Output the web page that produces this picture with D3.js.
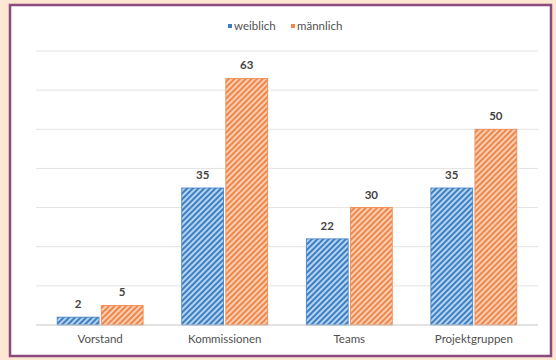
<!DOCTYPE html>
<html>
<head>
<meta charset="utf-8">
<script src="https://cdn.jsdelivr.net/npm/d3@7"></script>
<style>
  html, body { margin: 0; padding: 0; background: #fde6d2; }
  svg { display: block; }
  text { font-family: Lato, "Open Sans", sans-serif; }
</style>
</head>
<body>
<svg id="chart" width="556" height="360"></svg>
<script>
const categories = ['Vorstand', 'Kommissionen', 'Teams', 'Projektgruppen'];
const seriesNames = ['weiblich', 'männlich'];
const weiblich = [2, 35, 22, 35];
const maennlich = [5, 63, 30, 50];
const yTicks = [0, 10, 20, 30, 40, 50, 60, 70];

const colors = {
  weiblich: {dark: '#3f7fc1', light: '#b4d4f2'},
  'männlich': {dark: '#ef864a', light: '#fbcfb3'}
};

const svg = d3.select('#chart');
const W = 556, H = 360;
const margin = {top: 51, right: 18, bottom: 35, left: 36};
const w = W - margin.left - margin.right,
      h = H - margin.top - margin.bottom;

// panel with purple frame
svg.append('rect')
  .attr('x', 10).attr('y', 5)
  .attr('width', 541).attr('height', 351)
  .attr('fill', '#fff')
  .attr('stroke', '#8a4a7c')
  .attr('stroke-width', 2.5);

// hatch patterns
const defs = svg.append('defs');
seriesNames.forEach((s, i) => {
  const p = defs.append('pattern')
    .attr('id', 'hatch' + i)
    .attr('patternUnits', 'userSpaceOnUse')
    .attr('width', 4).attr('height', 4)
    .attr('patternTransform', 'rotate(45)');
  p.append('rect').attr('width', 4).attr('height', 4).attr('fill', colors[s].light);
  p.append('rect').attr('width', 2).attr('height', 4).attr('fill', colors[s].dark);
});

const g = svg.append('g').attr('transform', `translate(${margin.left},${margin.top})`);

const x = d3.scaleBand().domain(categories).range([0, w]).paddingInner(0.31).paddingOuter(0.17);
const xs = d3.scaleBand().domain(seriesNames).range([0, x.bandwidth()]).paddingInner(0.05);
const y = d3.scaleLinear().domain([0, 70]).range([h, 0]);

// gridlines
g.append('g')
  .selectAll('line')
  .data(yTicks.slice(1))
  .join('line')
  .attr('x1', 0).attr('x2', w)
  .attr('y1', d => y(d)).attr('y2', d => y(d))
  .attr('stroke', '#e3e3e3')
  .attr('stroke-width', 1);

const rows = categories.map((c, i) => ({cat: c, values: [weiblich[i], maennlich[i]]}));

const groups = g.selectAll('.grp')
  .data(rows)
  .join('g')
  .attr('class', 'grp')
  .attr('transform', d => `translate(${x(d.cat)},0)`);

groups.selectAll('rect')
  .data(d => d.values.map((v, i) => ({s: seriesNames[i], i, v})))
  .join('rect')
  .attr('x', d => xs(d.s))
  .attr('width', xs.bandwidth())
  .attr('y', d => y(d.v))
  .attr('height', d => y(0) - y(d.v))
  .attr('fill', d => `url(#hatch${d.i})`)
  .attr('stroke', d => colors[d.s].dark)
  .attr('stroke-width', 0.8);

groups.selectAll('text.val')
  .data(d => d.values.map((v, i) => ({s: seriesNames[i], i, v})))
  .join('text')
  .attr('class', 'val')
  .attr('x', d => xs(d.s) + xs.bandwidth() / 2)
  .attr('y', d => y(d.v) - 9)
  .attr('text-anchor', 'middle')
  .attr('font-size', 11.5)
  .attr('font-weight', 700)
  .attr('fill', '#444')
  .text(d => d.v);

// baseline
g.append('line')
  .attr('x1', 0).attr('x2', w)
  .attr('y1', y(0)).attr('y2', y(0))
  .attr('stroke', '#c8c8c8')
  .attr('stroke-width', 1.2);

// x axis labels
const xAxis = g.append('g')
  .attr('transform', `translate(0,${h})`)
  .call(d3.axisBottom(x).tickSize(0).tickPadding(10));
xAxis.select('.domain').remove();
xAxis.selectAll('text')
  .attr('font-size', 11.5)
  .attr('fill', '#505050')
  .style('font-family', 'Lato, "Open Sans", sans-serif');

// legend
const legend = svg.append('g').attr('transform', 'translate(228,26)');
const lx = [0, 63];
seriesNames.forEach((s, i) => {
  const lg = legend.append('g').attr('transform', `translate(${lx[i]},0)`);
  lg.append('rect').attr('x', 0).attr('y', -2).attr('width', 4).attr('height', 4)
    .attr('fill', colors[s].dark);
  lg.append('text').attr('x', 6).attr('y', 4)
    .attr('font-size', 11.5)
    .attr('fill', '#505050')
    .text(s);
});
</script>
</body>
</html>
